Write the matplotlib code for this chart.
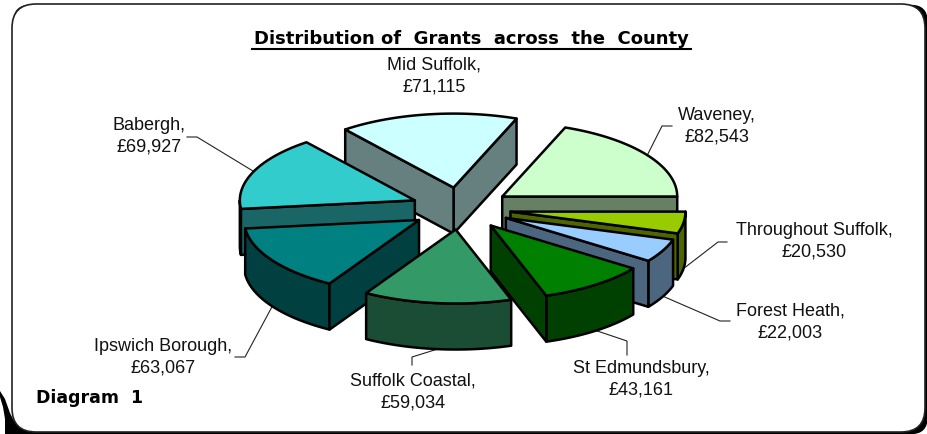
import numpy as np
import matplotlib
matplotlib.use("Agg")
import matplotlib.pyplot as plt
from matplotlib.patches import Polygon, FancyBboxPatch

# --- data -------------------------------------------------------------
names = ["Waveney", "Throughout Suffolk", "Forest Heath", "St Edmundsbury",
         "Suffolk Coastal", "Ipswich Borough", "Babergh", "Mid Suffolk"]
grants = [82543, 20530, 22003, 43161, 59034, 63067, 69927, 71115]
top_colors = ["#CCFFCC", "#99CC00", "#99CCFF", "#008000",
              "#339966", "#008080", "#33CCCC", "#CCFFFF"]
side_colors = ["#668066", "#4D6600", "#4D6680", "#004000",
               "#1A4D33", "#004040", "#1A6666", "#668080"]

# --- layout (pixels) --------------------------------------------------
W, H = 928, 435
CX, CY = 461, 209.5
RX, RY = 175, 74
EXPLODE = 50
DEPTH = 46
START = 68.9
label_xy = {"Waveney": (717, 126), "Throughout Suffolk": (814, 241),
            "Forest Heath": (790, 322), "St Edmundsbury": (641, 379),
            "Suffolk Coastal": (413, 392), "Ipswich Borough": (163, 357),
            "Babergh": (149, 136), "Mid Suffolk": (434, 76)}
leaders = {"Waveney": (34, 1.0, [(662, 127), (672, 127)]),
           "Throughout Suffolk": (-8.5, 1.0, [(718, 243), (727, 243)]),
           "Forest Heath": (-26, 1.0, [(720, 322), (730, 322)]),
           "St Edmundsbury": (-53, 1.0, [(627, 342), (627, 356)]),
           "Suffolk Coastal": (-96, 1.0, [(412, 358), (412, 366)]),
           "Ipswich Borough": (-147, 1.0, [(245, 358), (235, 358)]),
           "Babergh": (157, 1.0, [(197, 138), (187, 138)])}

plt.rcParams["font.family"] = ["Liberation Sans", "DejaVu Sans"]
fig = plt.figure(figsize=(W / 100, H / 100), dpi=100)
ax = fig.add_axes([0, 0, 1, 1])
ax.set_xlim(0, W)
ax.set_ylim(H, 0)
ax.axis("off")

# --- frame ------------------------------------------------------------
ax.add_patch(Polygon([(0, 392), (5, 400), (10, 414), (14, 422), (22, 429), (36, 433),
                      (36, 435), (0, 435)], closed=True, fc="black", ec="none", zorder=0))
ax.add_patch(Polygon([(0, 398), (3, 408), (5, 420), (5, 435), (0, 435)],
                     closed=True, fc="white", ec="none", zorder=0.5))
ax.add_patch(FancyBboxPatch((12 + 2, 5 + 1.5), 913, 428, boxstyle="round,pad=0,rounding_size=16",
                            fc="black", ec="black", lw=1, zorder=1))
ax.add_patch(FancyBboxPatch((12, 5), 913, 428, boxstyle="round,pad=0,rounding_size=24",
                            fc="white", ec="#222222", lw=1.2, zorder=2))

# --- pie --------------------------------------------------------------
vals = np.array(grants, dtype=float)
sweep = vals / vals.sum() * 360.0
ends = START - np.cumsum(sweep)
starts = ends + sweep
wedges = []
for i, (a1, a0) in enumerate(zip(starts, ends)):
    mid = np.radians((a0 + a1) / 2)
    ox = CX + EXPLODE * np.cos(mid)
    oy = CY - EXPLODE * RY / RX * np.sin(mid)
    wedges.append((i, a0, a1, ox, oy))


def arc(ox, oy, a0, a1, n=60):
    t = np.radians(np.linspace(a0, a1, n))
    return np.column_stack([ox + RX * np.cos(t), oy - RY * np.sin(t)])


EDGE = dict(ec="black", lw=1.8, joinstyle="round")
# back to front: wedges whose centre lies higher on the page come first
order = sorted(wedges, key=lambda w: w[4])
z = 10
for i, a0, a1, ox, oy in order:
    side, top = side_colors[i], top_colors[i]
    # rounded outer wall: only the part turned towards the viewer
    for lo, hi in ((a0, a1), (a0 + 360, a1 + 360), (a0 - 360, a1 - 360)):
        l, h = max(lo, 180), min(hi, 360)
        if h > l:
            a = arc(ox, oy, l, h)
            wall = np.vstack([a, (a + [0, DEPTH])[::-1]])
            ax.add_patch(Polygon(wall, closed=True, fc=side, zorder=z, **EDGE))
            z += 1
    # flat cut faces
    for ang, visible in ((a0, np.cos(np.radians(a0)) > 0), (a1, np.cos(np.radians(a1)) < 0)):
        if visible:
            p = arc(ox, oy, ang, ang, 1)[0]
            face = [(ox, oy), tuple(p), (p[0], p[1] + DEPTH), (ox, oy + DEPTH)]
            ax.add_patch(Polygon(face, closed=True, fc=side, zorder=z, **EDGE))
            z += 1
    # top
    ax.add_patch(Polygon(np.vstack([[ox, oy], arc(ox, oy, a0, a1)]), closed=True,
                         fc=top, zorder=z, **EDGE))
    z += 1

# --- leader lines -----------------------------------------------------
lookup = {names[w[0]]: w for w in wedges}
for name, (ang, f, pts) in leaders.items():
    i, a0, a1, ox, oy = lookup[name]
    t = np.radians(ang)
    drop = DEPTH if np.sin(t) < 0 else 0
    sx, sy = ox + RX * f * np.cos(t), oy - RY * f * np.sin(t) + drop
    xs, ys = zip(*([(sx, sy)] + pts))
    ax.plot(xs, ys, color="#222222", lw=0.8, zorder=5, solid_joinstyle="miter")

# --- labels -----------------------------------------------------------
for name, v in zip(names, grants):
    x, y = label_xy[name]
    ax.text(x, y, f"{name},\n£{v:,}", ha="center", va="center", fontsize=13,
            color="#111111", linespacing=1.38, zorder=100)

ax.text(471, 39, "Distribution of  Grants  across  the  County", ha="center", va="center",
        fontsize=13, fontweight="bold", family=["DejaVu Sans"], color="black", zorder=100)
ax.plot([252, 691], [50, 50], color="black", lw=1.5, zorder=100)
ax.text(36, 398, "Diagram  1", ha="left", va="center", fontsize=12.5, fontweight="bold",
        family=["DejaVu Sans"], color="black", zorder=100)

fig.savefig("out.png", dpi=100, facecolor="white")
